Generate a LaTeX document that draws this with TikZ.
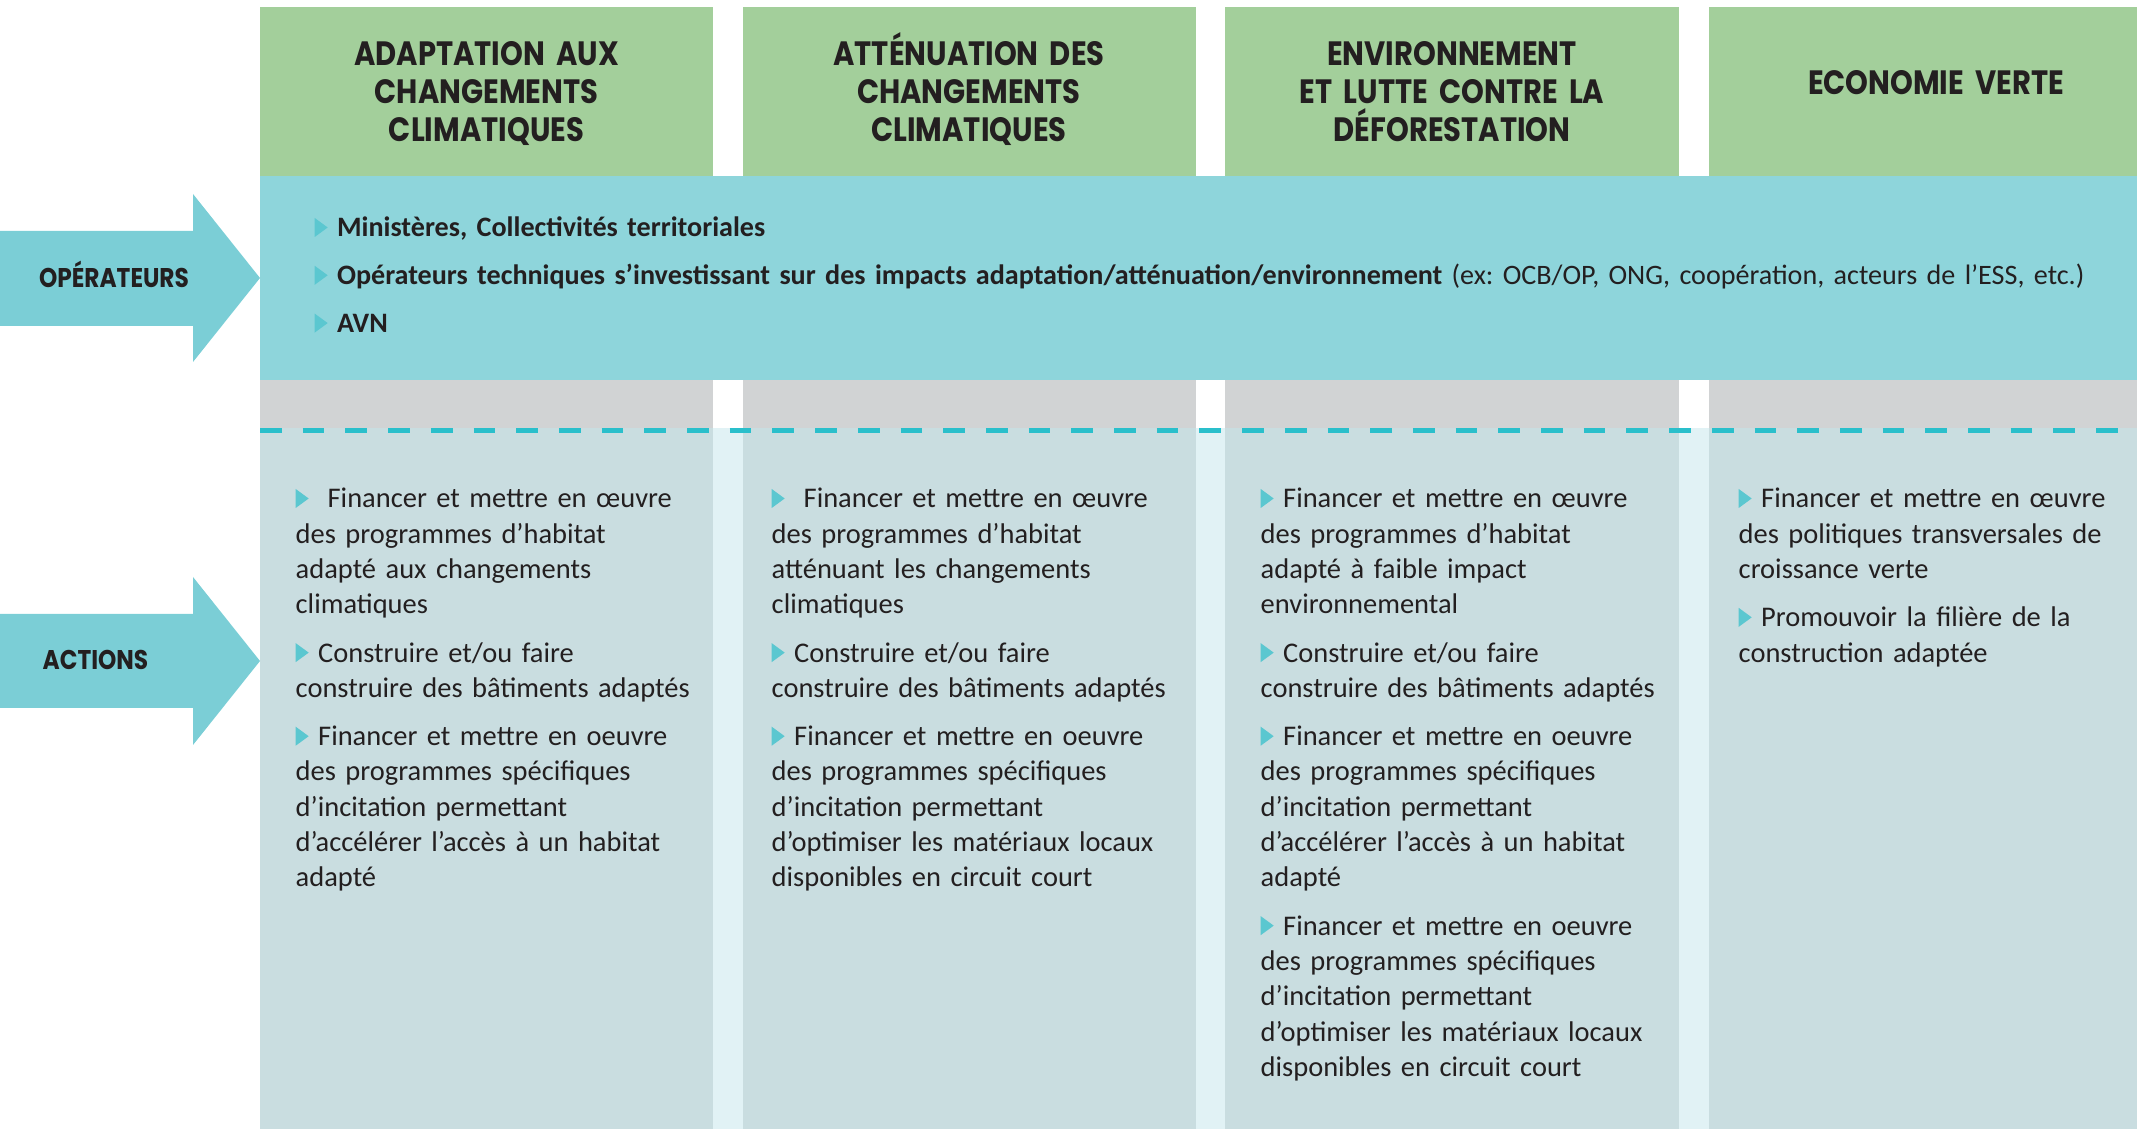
\documentclass[tikz,border=0pt]{standalone}
\usepackage{fontspec}
\setmainfont{Carlito}
\newfontfamily\titrefont{Poppins}[FakeStretch=0.86]
\frenchspacing

\definecolor{vert}{HTML}{A3CF9B}
\definecolor{bande}{HTML}{8ED5DB}
\definecolor{flechebleu}{HTML}{7BCED6}
\definecolor{gris}{HTML}{D1D3D4}
\definecolor{colonne}{HTML}{C9DDE0}
\definecolor{clair}{HTML}{E1F2F5}
\definecolor{tiret}{HTML}{2ABFCB}
\definecolor{puce}{HTML}{5BC7D0}
\definecolor{encre}{HTML}{231F20}

\newcommand{\puce}{\tikz[baseline=0pt]\fill[puce] (0,0) -- (0,1.9mm) -- (1.3mm,0.95mm) -- cycle;}

\begin{document}
\begin{tikzpicture}[x=0.1mm,y=-0.1mm,
  titre/.style={font=\titrefont\bfseries\fontsize{9.6}{10.75}\selectfont,text=encre,
    align=center,text width=43mm,anchor=base,inner sep=0pt},
  etiquette/.style={font=\titrefont\bfseries\fontsize{7.7}{9}\selectfont,text=encre,
    anchor=base,inner sep=0pt},
  liste/.style={font=\fontsize{8.1}{10.04}\selectfont,text=encre,
    align=left,text width=50mm,anchor=base west,inner sep=0pt},
  tirets/.style={tiret,line width=0.5mm,dash pattern=on 2.17mm off 2.1mm}]

  \useasboundingbox (0,0) rectangle (2137,1129);

  % en-tetes
  \fill[vert] (260,7) rectangle (713,176);
  \fill[vert] (743,7) rectangle (1196,176);
  \fill[vert] (1225,7) rectangle (1679,176);
  \fill[vert] (1709,7) rectangle (2137,176);

  % bande operateurs
  \fill[bande] (260,176) rectangle (2137,380);

  % colonnes
  \fill[gris] (260,380) rectangle (713,428);
  \fill[gris] (743,380) rectangle (1196,428);
  \fill[gris] (1225,380) rectangle (1679,428);
  \fill[gris] (1709,380) rectangle (2137,428);
  \fill[clair] (260,428) rectangle (2137,1129);
  \fill[colonne] (260,428) rectangle (713,1129);
  \fill[colonne] (743,428) rectangle (1196,1129);
  \fill[colonne] (1225,428) rectangle (1679,1129);
  \fill[colonne] (1709,428) rectangle (2137,1129);
  \draw[tirets] (260,430.5) -- (2137,430.5);

  % fleches
  \fill[flechebleu] (0,231) -- (193,231) -- (193,194) -- (260,278) -- (193,362)
    -- (193,326) -- (0,326) -- cycle;
  \fill[flechebleu] (0,614) -- (193,614) -- (193,577) -- (260,661) -- (193,745)
    -- (193,708) -- (0,708) -- cycle;
  \node[etiquette] (op) at (114,288) {OPÉRATEURS};
  \node[etiquette] (act) at (95.5,670) {ACTIONS};

  \node[titre] (t1) at (486.5,66) {ADAPTATION AUX\\CHANGEMENTS\\CLIMATIQUES};
  \node[titre] (t2) at (969,66) {ATTÉNUATION DES\\CHANGEMENTS\\CLIMATIQUES};
  \node[titre] (t3) at (1452,66) {ENVIRONNEMENT\\ET LUTTE CONTRE LA\\DÉFORESTATION};
  \node[titre] (t4) at (1936,95) {ECONOMIE VERTE};

  \node[liste,text width=190mm,font=\bfseries\fontsize{8}{13.6}\selectfont] (o1) at (314,237)
    {\puce\ Ministères, Collectivités territoriales\\
     \puce\ Opérateurs techniques s’investissant sur des impacts adaptation/atténuation/environnement
     {\mdseries (ex: OCB/OP, ONG, coopération, acteurs de l’ESS, etc.)}\\
     \puce\ AVN};

  \node[liste] (a1) at (295,508)
    {\puce\ \ Financer et mettre en œuvre\\
     des programmes d’habitat\\
     adapté aux changements\\
     climatiques\\[3.7pt]
     \puce\ Construire et/ou faire\\
     construire des bâtiments adaptés\\[3.7pt]
     \puce\ Financer et mettre en oeuvre\\
     des programmes spécifiques\\
     d’incitation permettant\\
     d’accélérer l’accès à un habitat\\
     adapté};
  \node[liste] (a2) at (771,508)
    {\puce\ \ Financer et mettre en œuvre\\
     des programmes d’habitat\\
     atténuant les changements\\
     climatiques\\[3.7pt]
     \puce\ Construire et/ou faire\\
     construire des bâtiments adaptés\\[3.7pt]
     \puce\ Financer et mettre en oeuvre\\
     des programmes spécifiques\\
     d’incitation permettant\\
     d’optimiser les matériaux locaux\\
     disponibles en circuit court};
  \node[liste] (a3) at (1260,508)
    {\puce\ Financer et mettre en œuvre\\
     des programmes d’habitat\\
     adapté à faible impact\\
     environnemental\\[3.7pt]
     \puce\ Construire et/ou faire\\
     construire des bâtiments adaptés\\[3.7pt]
     \puce\ Financer et mettre en oeuvre\\
     des programmes spécifiques\\
     d’incitation permettant\\
     d’accélérer l’accès à un habitat\\
     adapté\\[3.7pt]
     \puce\ Financer et mettre en oeuvre\\
     des programmes spécifiques\\
     d’incitation permettant\\
     d’optimiser les matériaux locaux\\
     disponibles en circuit court};
  \node[liste] (a4) at (1738,508)
    {\puce\ Financer et mettre en œuvre\\
     des politiques transversales de\\
     croissance verte\\[3.7pt]
     \puce\ Promouvoir la filière de la\\
     construction adaptée};
\end{tikzpicture}
\end{document}
